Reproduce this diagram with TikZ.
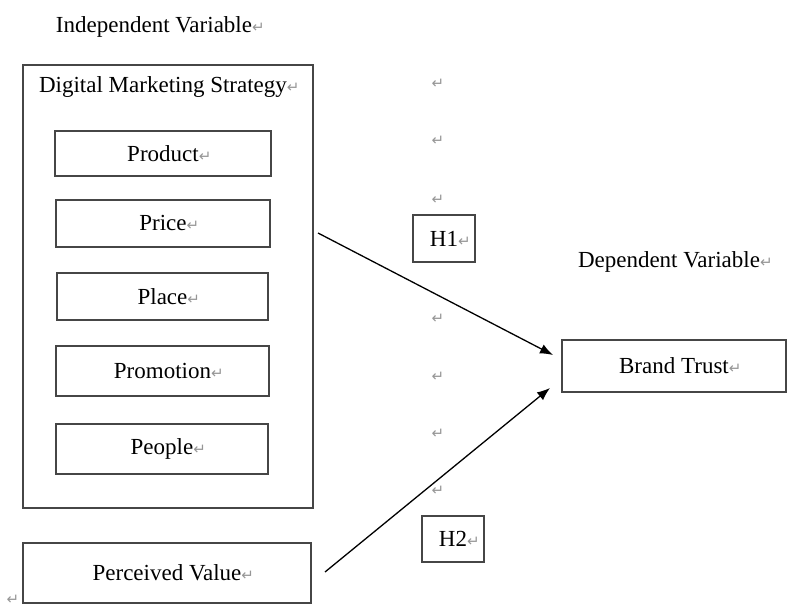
\documentclass[tikz,border=0pt]{standalone}
\usepackage{fontspec}
\setmainfont{Liberation Serif}
\newfontfamily\retfont{DejaVu Sans}
\usetikzlibrary{arrows.meta}
\definecolor{boxgray}{RGB}{70,70,70}
\definecolor{markgray}{RGB}{150,150,150}
\newcommand\retmark{\rlap{\textcolor{markgray}{\retfont\fontsize{15}{15}\selectfont ↵}}}
\newcommand\retsolo{\textcolor{markgray}{\retfont\fontsize{15}{15}\selectfont ↵}}
\begin{document}
\begin{tikzpicture}[x=1pt,y=-1pt,
  every node/.style={font=\fontsize{23}{27}\selectfont, inner sep=0pt},
  box/.style={draw=boxgray, line width=1.3pt, rectangle},
  conn/.style={line width=1.3pt, -{Latex[length=13pt,width=10pt]}}]
\useasboundingbox (0,0) rectangle (787,609);
% titles
\node (indep) at (154,27) {Independent Variable\retmark};
\node (dep) at (669,262) {Dependent Variable\retmark};
% outer box
\node[box, minimum width=290pt, minimum height=443pt] (outer) at (168,286.5) {};
\node (dms) at (163,87) {Digital Marketing Strategy\retmark};
\node[box, minimum width=216pt, minimum height=45pt] (product) at (163,153.5) {Product\retmark};
\node[box, minimum width=214pt, minimum height=47pt] (price) at (163,223.5) {Price\retmark};
\node[box, minimum width=211pt, minimum height=47pt] (place) at (162.5,296.5) {Place\retmark};
\node[box, minimum width=213pt, minimum height=50pt] (promotion) at (162.5,371) {Promotion\retmark};
\node[box, minimum width=212pt, minimum height=50pt] (people) at (162,449) {People\retmark};
\node[box, minimum width=288pt, minimum height=60pt] (perceived) at (167,573) {Perceived Value\retmark};
\node[box, minimum width=224pt, minimum height=52pt] (brand) at (674,366) {Brand Trust\retmark};
\node[box, minimum width=62pt, minimum height=47pt] (h1) at (444,238.5) {H1\retmark};
\node[box, minimum width=62pt, minimum height=46pt] (h2) at (453,539) {H2\retmark};
% stray paragraph marks
\node (m1) at (438,84) {\retsolo};
\node (m2) at (438,141) {\retsolo};
\node (m3) at (438,200) {\retsolo};
\node (m4) at (438,319) {\retsolo};
\node (m5) at (438,377) {\retsolo};
\node (m6) at (438,434) {\retsolo};
\node (m7) at (438,491) {\retsolo};
\node (m8) at (13,600) {\retsolo};
% connectors
\coordinate (s1) at (318,233);
\coordinate (e1) at (553,355);
\coordinate (s2) at (325,572);
\coordinate (e2) at (550,388);
\draw[conn] (s1) -- (e1);
\draw[conn] (s2) -- (e2);
\end{tikzpicture}
\end{document}
